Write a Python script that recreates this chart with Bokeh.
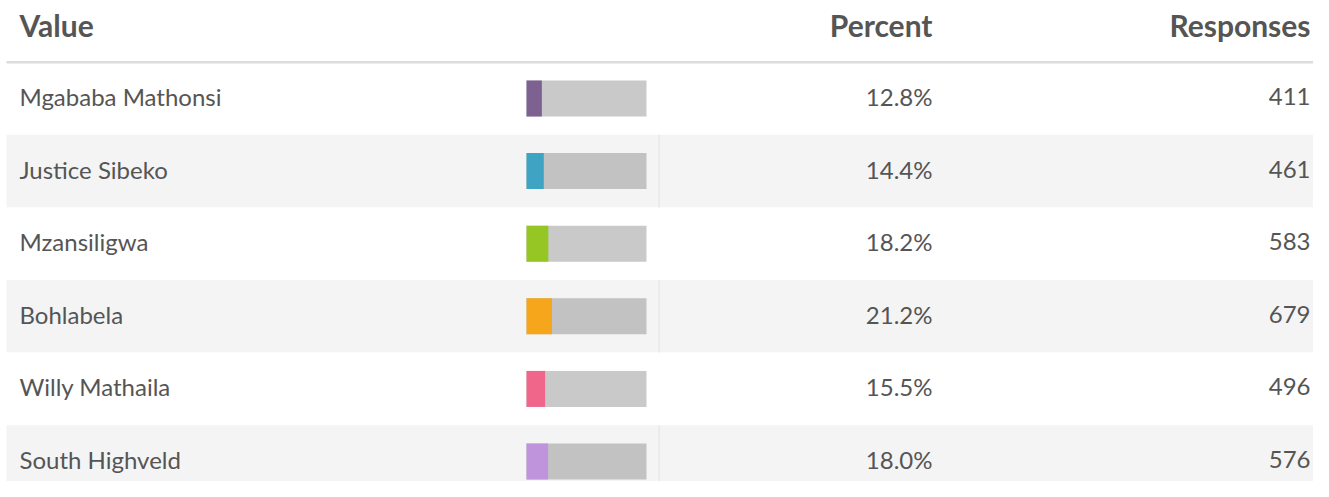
from bokeh.plotting import figure
from bokeh.models import Range1d, ColumnDataSource
from bokeh.core.properties import value
from bokeh.embed import file_html
from bokeh.resources import INLINE

# ---- data ----
names = ["Mgababa Mathonsi", "Justice Sibeko", "Mzansiligwa", "Bohlabela",
         "Willy Mathaila", "South Highveld"]
percents = [12.8, 14.4, 18.2, 21.2, 15.5, 18.0]
responses = [411, 461, 583, 679, 496, 576]
colors = ["#7d6190", "#3fa3c4", "#95c623", "#f5a61b", "#f0668a", "#bf94dc"]
headers = ["Value", "Percent", "Responses"]

W, H = 1313, 481
FONT = "Lato"
ROW_PX = 72.6
TOP = -98 / ROW_PX
BOTTOM = (H - 98) / ROW_PX

n = len(names)
rows = list(range(n))
row_bg = ["#ffffff" if i % 2 == 0 else "#f4f4f4" for i in rows]
track = ["#c9c9c9" if i % 2 == 0 else "#c2c2c2" for i in rows]

p = figure(width=W, height=H, output_backend="svg", toolbar_location=None,
           x_range=Range1d(0, W), y_range=Range1d(BOTTOM, TOP),
           min_border=0, outline_line_color=None)
p.axis.visible = False
p.grid.visible = False
p.background_fill_color = "#ffffff"
p.border_fill_color = "#ffffff"

# row backgrounds
p.hbar(y=rows, height=1.0, left=6, right=W, fill_color=row_bg, line_color=None)
# vertical separators in shaded rows
shaded = [i for i in rows if i % 2 == 1]
p.segment(x0=[658.5] * len(shaded), x1=[658.5] * len(shaded),
          y0=[i - 0.5 for i in shaded], y1=[i + 0.5 for i in shaded],
          line_color="#e8e8e8", line_width=1.5)
# header rule
p.segment(x0=[6], x1=[W], y0=[-0.5], y1=[-0.5], line_color="#dcdcdc", line_width=2.5)

# bars
BAR_X0, BAR_W = 526, 120
p.hbar(y=rows, height=36 / ROW_PX, left=BAR_X0, right=BAR_X0 + BAR_W,
       fill_color=track, line_color=None)
p.hbar(y=rows, height=36 / ROW_PX, left=BAR_X0,
       right=[BAR_X0 + v / 100 * BAR_W for v in percents],
       fill_color=colors, line_color=None)

# headers
hy = (24.5 - 98) / ROW_PX
p.text(x=[19], y=[hy], text=[headers[0]], text_font=value(FONT), text_font_style="bold",
       text_font_size="30px", text_color="#555555", text_baseline="middle", text_align="left")
p.text(x=[932, 1310], y=[hy, hy], text=headers[1:], text_font=value(FONT),
       text_font_style="bold", text_font_size="30px", text_color="#555555",
       text_baseline="middle", text_align="right")

# row texts
src = ColumnDataSource(dict(
    y=[r - 2 / ROW_PX for r in rows], name=names,
    pct=[f"{v:.1f}%" for v in percents],
    resp=[str(r) for r in responses],
))
common = dict(text_font=value(FONT), text_font_size="24px", text_color="#555555",
              text_baseline="middle", source=src)
p.text(x=19, y="y", text="name", text_align="left", **common)
p.text(x=932, y="y", text="pct", text_align="right", **common)
p.text(x=1310, y="y", text="resp", text_align="right", **common)

open("out.html", "w").write(file_html(p, INLINE))
